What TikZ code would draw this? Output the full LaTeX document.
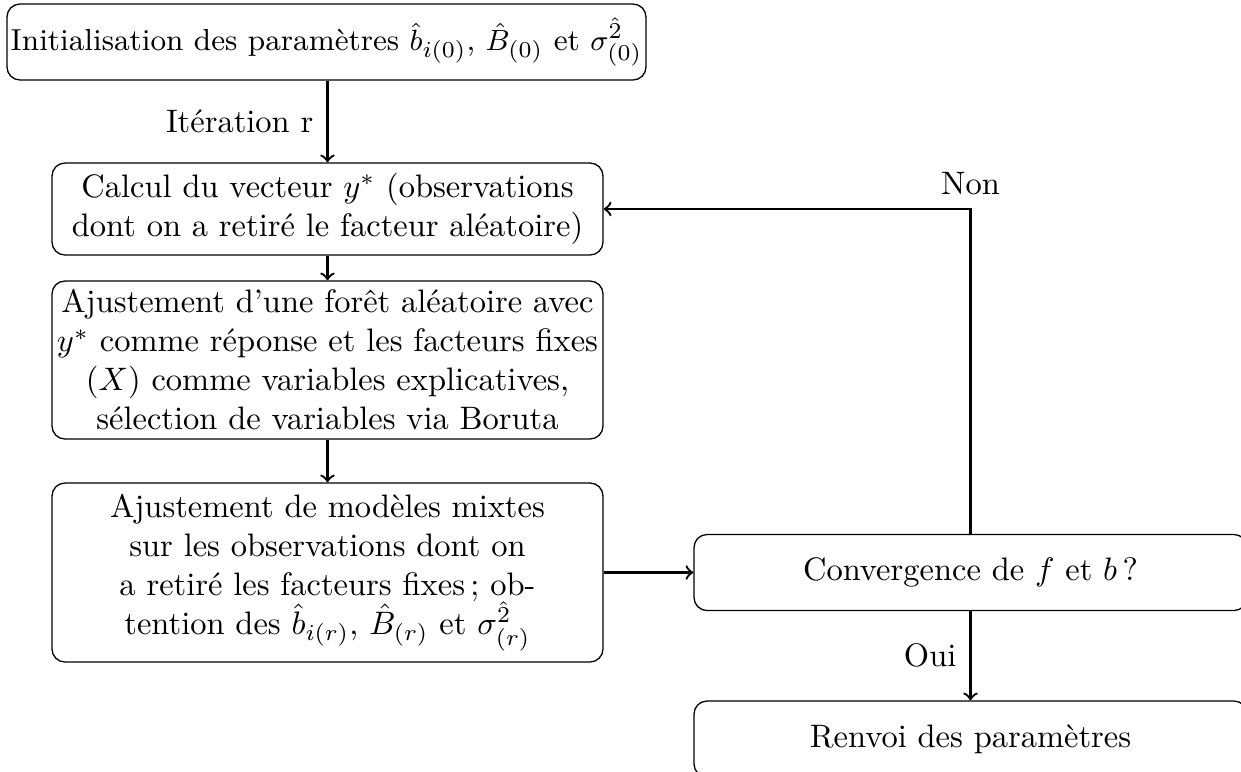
\documentclass[tikz,border=0pt]{standalone}
\usepackage{amsmath}
\usepackage{fontspec}
\newlength\px
\setlength\px{0.30769pt}
\tikzset{
  stepbox/.style={draw, rounded corners=4pt, align=center, inner sep=0pt},
  flow/.style={->, line width=0.7pt}
}
\begin{document}
\begin{tikzpicture}[x=1\px, y=-1\px]
  \useasboundingbox (0,0) rectangle (1241,771);

  % main column
  \node[stepbox, minimum width=639\px, minimum height=76\px, font=\fontsize{9.35pt}{11.2pt}\selectfont] (init) at (326.5,42)
    {Initialisation des paramètres $\hat{b}_{i(0)}$, $\hat{B}_{(0)}$ et $\sigma^{\hat{2}}_{(0)}$};
  \node[stepbox, minimum width=551\px, minimum height=92\px] (calc) at (327.5,209)
    {Calcul du vecteur $y^*$ (observations\\dont on a retiré le facteur aléatoire)};
  \node[stepbox, minimum width=551\px, minimum height=158\px] (foret) at (327.5,360)
    {Ajustement d’une forêt aléatoire avec\\$y^*$ comme réponse et les facteurs fixes\\($X$) comme variables explicatives,\\sélection de variables via Boruta};
  \node[stepbox, minimum width=551\px, minimum height=179\px] (mixte) at (327.5,572.5)
    {Ajustement de modèles mixtes\\sur les observations dont on\\a retiré les facteurs fixes\,; ob-\\tention des $\hat{b}_{i(r)}$, $\hat{B}_{(r)}$ et $\sigma^{\hat{2}}_{(r)}$};

  % right column
  \node[stepbox, minimum width=553\px, minimum height=76\px] (conv) at (970.5,572.5)
    {Convergence de $f$ et $b$\,?};
  \node[stepbox, minimum width=553\px, minimum height=76\px] (renvoi) at (970.5,739)
    {Renvoi des paramètres};

  % connectors
  \draw[flow] (init.south -| calc.north) -- node[midway, left, inner sep=4pt] {Itération r} (calc.north);
  \draw[flow] (calc) -- (foret);
  \draw[flow] (foret) -- (mixte);
  \draw[flow] (mixte) -- (conv);
  \draw[flow] (conv.north) |- node[pos=0.5, above, inner sep=4pt] {Non} (calc.east);
  \draw[flow] (conv) -- node[midway, left, inner sep=4pt] {Oui} (renvoi);
\end{tikzpicture}
\end{document}
